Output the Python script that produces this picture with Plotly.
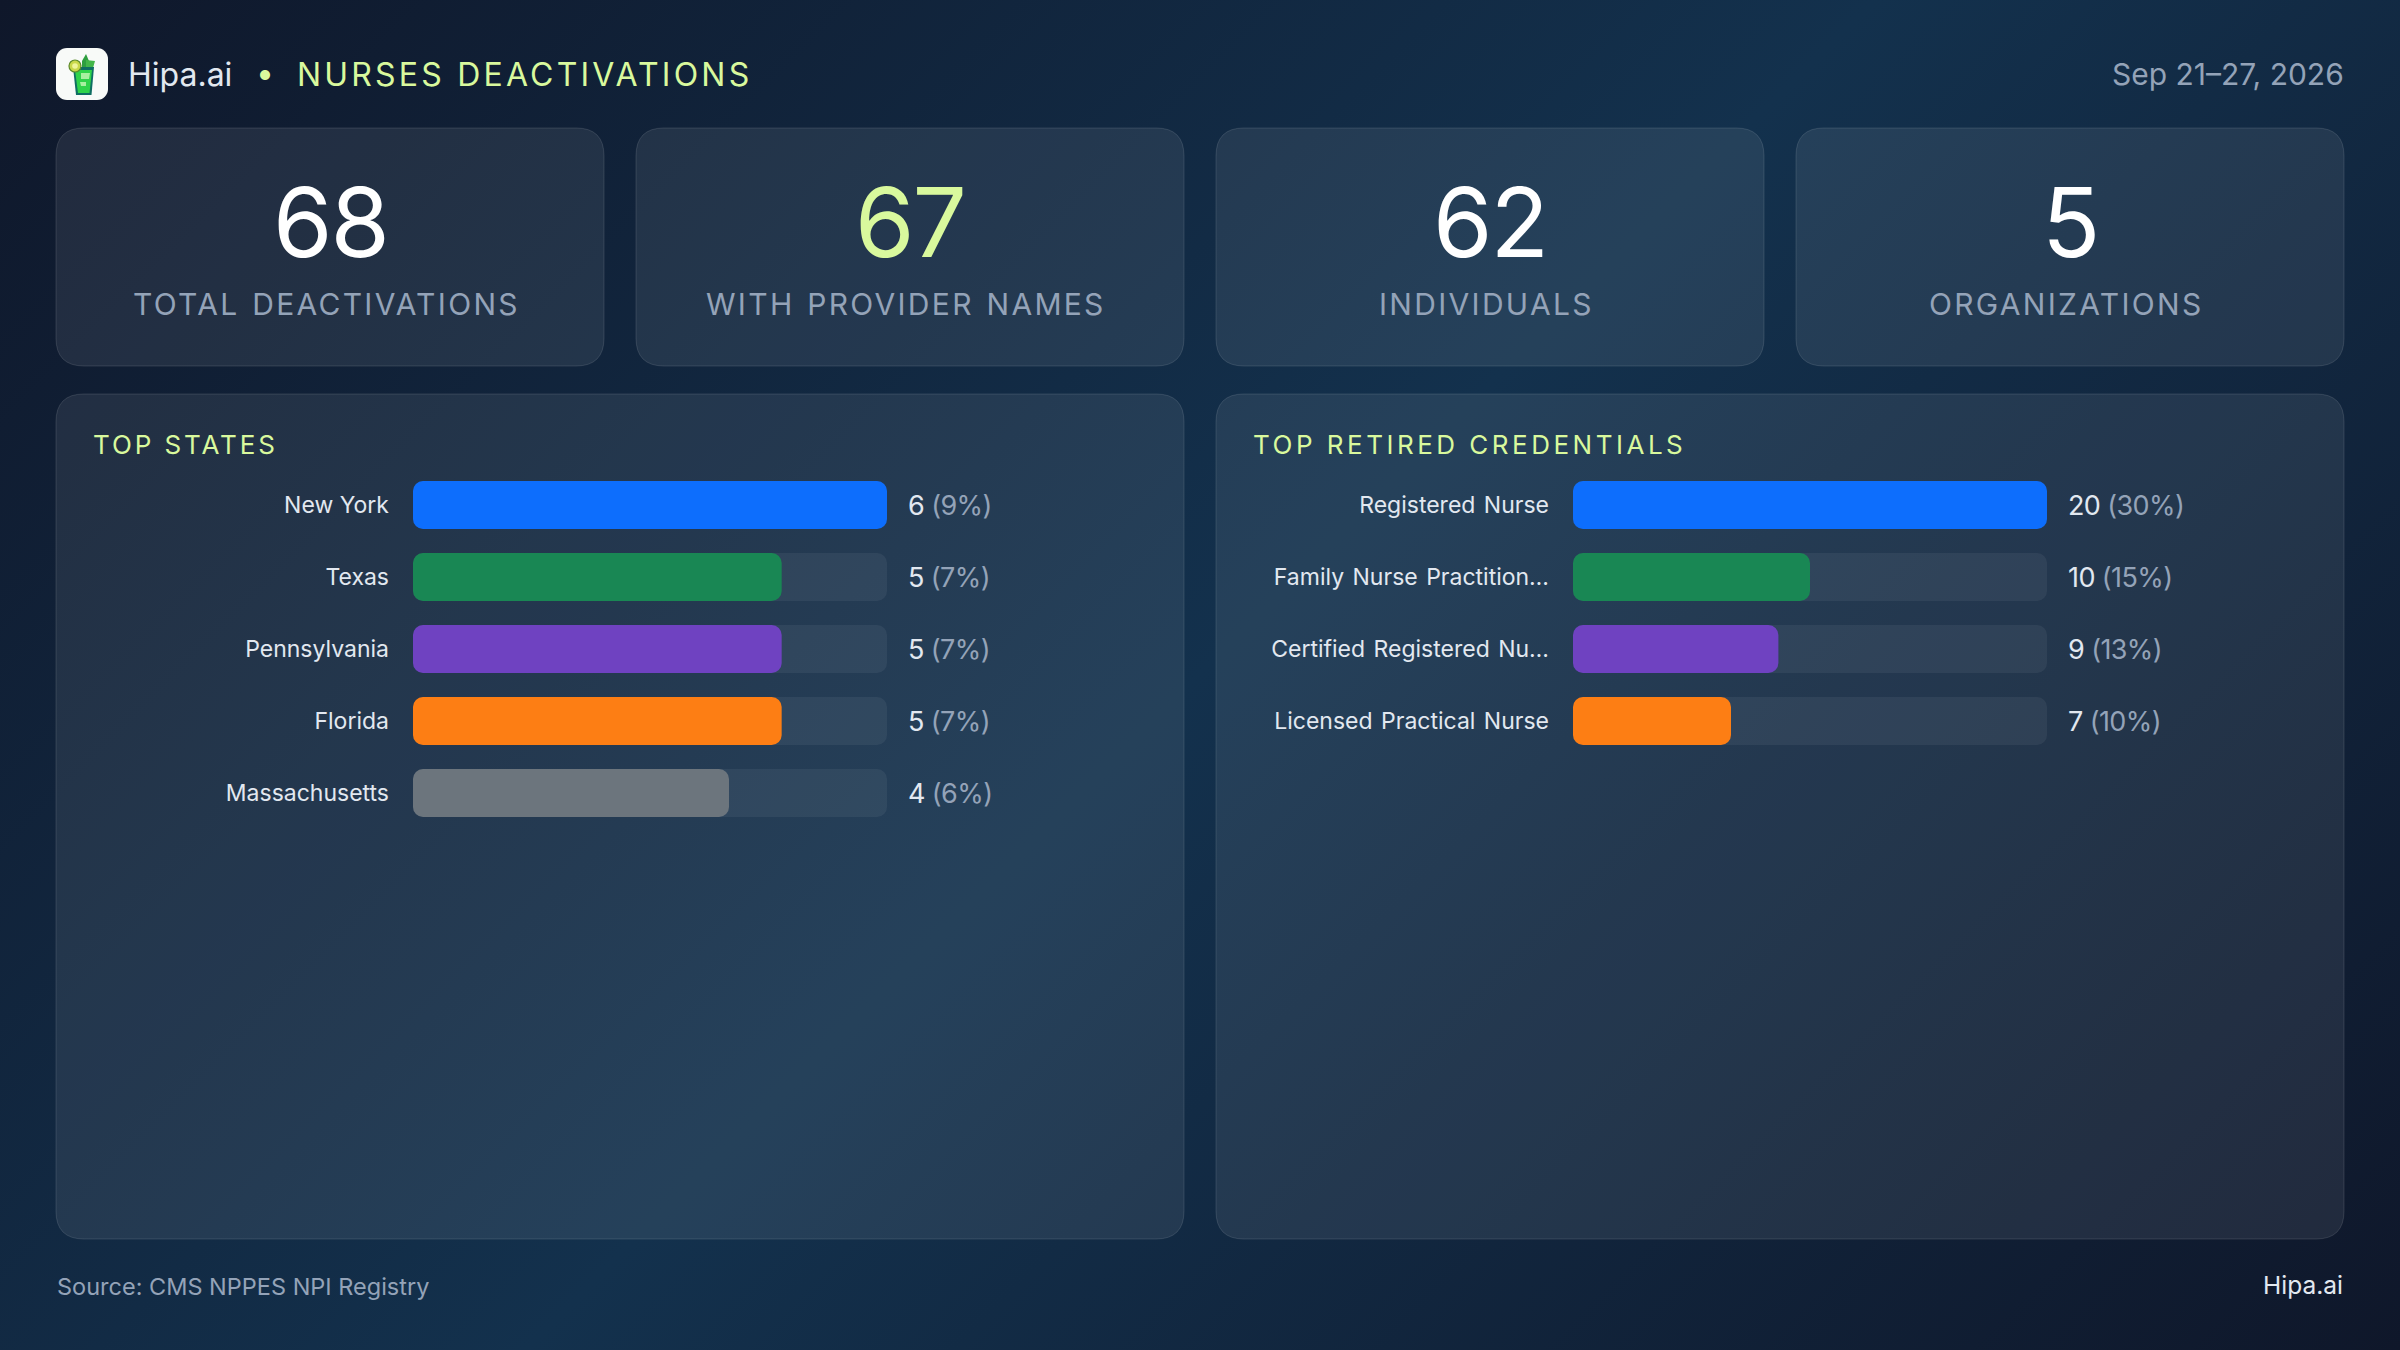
import base64

import plotly.graph_objects as go

W, H = 2400, 1350

brand = "Hipa.ai"
report_title = "NURSES DEACTIVATIONS"
date_range = "Sep 21–27, 2026"
source_note = "Source: CMS NPPES NPI Registry"

kpi_values = ["68", "67", "62", "5"]
kpi_labels = ["TOTAL DEACTIVATIONS", "WITH PROVIDER NAMES", "INDIVIDUALS", "ORGANIZATIONS"]

state_names = ["New York", "Texas", "Pennsylvania", "Florida", "Massachusetts"]
state_counts = [6, 5, 5, 5, 4]
state_pcts = [9, 7, 7, 7, 6]

cred_names = ["Registered Nurse", "Family Nurse Practition…", "Certified Registered Nu…", "Licensed Practical Nurse"]
cred_counts = [20, 10, 9, 7]
cred_pcts = [30, 15, 13, 10]

bar_colors = ["#0d6efd", "#198754", "#6f42c1", "#fd7e14", "#6c757d"]

LIME = "#d9f99d"
TEXT = "#e2e8f0"
MUTED = "#94a3b8"
FONT = "Inter"


def svg_uri(svg):
    return "data:image/svg+xml;base64," + base64.b64encode(svg.encode()).decode()


bg_svg = f"""<svg xmlns="http://www.w3.org/2000/svg" width="{W}" height="{H}" viewBox="0 0 {W} {H}">
<defs><linearGradient id="g" gradientUnits="userSpaceOnUse" x1="262.5" y1="-262.5" x2="2137.5" y2="1612.5">
<stop offset="0" stop-color="#0f172a"/><stop offset="0.5" stop-color="#13314d"/><stop offset="1" stop-color="#0f172a"/>
</linearGradient></defs><rect width="{W}" height="{H}" fill="url(#g)"/></svg>"""

logo_svg = """<svg xmlns="http://www.w3.org/2000/svg" width="52" height="52" viewBox="0 0 52 52">
<rect width="52" height="52" rx="11" fill="#f8faf8"/>
<path d="M26 13 L30 6 L33 13 L33 20 L26 20 Z" fill="#2e9e3f"/>
<path d="M30 12 L39 13 L37 20 L30 20 Z" fill="#43b649"/>
<path d="M17 19 L38 19 L35.5 47 L20 47 Z" fill="#0f6e62"/>
<path d="M19 22 L36 22 L33.5 45 L22 45 Z" fill="#2fd34a"/>
<path d="M25 25 L34 25 L33 31 L25 31 Z M24 34 L30 34 L30 38 L25 38 Z" fill="#a8f0a0"/>
<circle cx="19" cy="18" r="6" fill="#c9d84a" stroke="#5c8a2a" stroke-width="1.2"/>
<circle cx="19" cy="18" r="2.8" fill="#eef59a"/>
</svg>"""


def rounded_rect(x0, y0, x1, y1, r):
    # path in paper coordinates, y measured from the top of the page
    fx = lambda v: round(v / W, 5)
    fy = lambda v: round(1 - v / H, 5)
    return (
        f"M {fx(x0 + r)} {fy(y0)} L {fx(x1 - r)} {fy(y0)} Q {fx(x1)} {fy(y0)} {fx(x1)} {fy(y0 + r)} "
        f"L {fx(x1)} {fy(y1 - r)} Q {fx(x1)} {fy(y1)} {fx(x1 - r)} {fy(y1)} "
        f"L {fx(x0 + r)} {fy(y1)} Q {fx(x0)} {fy(y1)} {fx(x0)} {fy(y1 - r)} "
        f"L {fx(x0)} {fy(y0 + r)} Q {fx(x0)} {fy(y0)} {fx(x0 + r)} {fy(y0)} Z"
    )


def box(x0, y0, x1, y1, r=28):
    return dict(
        type="path", xref="paper", yref="paper", layer="below",
        path=rounded_rect(x0, y0, x1, y1, r),
        fillcolor="rgba(255,255,255,0.08)",
        line=dict(color="rgba(255,255,255,0.12)", width=1),
    )


def label(text, x, y, size, color, anchor="left", weight=400):
    return dict(
        text=text, x=x / W, y=1 - y / H, xref="paper", yref="paper",
        xanchor=anchor, yanchor="middle", showarrow=False,
        font=dict(family=FONT, size=size, color=color, weight=weight),
    )


def spaced(text, ls, ws=0):
    return f'<span style="letter-spacing:{ls}px;word-spacing:{ws}px">{text}</span>'


card_lefts = [56, 636, 1216, 1796]
shapes = [box(x, 128, x + 548, 366) for x in card_lefts]
shapes += [box(56, 394, 1184, 1239), box(1216, 394, 2344, 1239)]

annotations = [
    label(brand, 126, 74, 32, TEXT),
    label("•", 265, 73, 32, LIME, anchor="center"),
    label(spaced(report_title, 3.2), 294.5, 74, 32, LIME),
    label(date_range, 2346, 74, 30, MUTED, anchor="right"),
    label(source_note, 55, 1286, 23.5, MUTED),
    label(brand, 2345, 1285, 24.5, TEXT, anchor="right"),
    label(spaced("TOP STATES", 2.9), 90.5, 444, 26, LIME),
    label(spaced("TOP RETIRED CREDENTIALS", 3.5), 1250.5, 444, 26, LIME),
]
for i, x in enumerate(card_lefts):
    annotations.append(label(spaced(kpi_values[i], -2), x + 274, 222, 96, LIME if i == 1 else "#ffffff", anchor="center"))
    annotations.append(label(spaced(kpi_labels[i], 2.3, 2), x + 270, 304, 30, MUTED, anchor="center"))


fig = go.Figure()


def add_panel(names, counts, pcts, xa, ya, px_left, px_top, word_gap):
    top = max(pcts)
    zeros = [0] * len(names)
    # track first, fill on top of it; explicit base so both bar ends get rounded
    fig.add_trace(go.Bar(
        y=names, x=[top] * len(names), base=zeros, orientation="h", xaxis=xa, yaxis=ya,
        marker=dict(color="rgba(255,255,255,0.06)", line=dict(width=0)),
        hoverinfo="skip", showlegend=False,
    ))
    fig.add_trace(go.Bar(
        y=names, x=pcts, base=zeros, orientation="h", xaxis=xa, yaxis=ya,
        marker=dict(color=bar_colors[:len(names)], line=dict(width=0)),
        hoverinfo="skip", showlegend=False,
    ))
    for name, c, p in zip(names, counts, pcts):
        annotations.append(dict(
            text=spaced(f'{c} <span style="fill:{MUTED}">({p}%)</span>', -0.6),
            x=top, y=name, xref=xa, yref=ya, xanchor="left", yanchor="middle",
            xshift=19, showarrow=False, font=dict(family=FONT, size=27, color=TEXT),
        ))
    n = len(names)
    layout_x = dict(
        domain=[px_left / W, (px_left + 474) / W], range=[0, top], anchor=ya,
        visible=False, fixedrange=True,
    )
    layout_y = dict(
        domain=[1 - (px_top + 72 * n) / H, 1 - px_top / H], anchor=xa,
        autorange="reversed", type="category", showgrid=False, zeroline=False, showline=False,
        ticks="", ticklabelstandoff=23, fixedrange=True,
        tickmode="array", tickvals=names, ticktext=[spaced(v, 0, word_gap) for v in names],
        tickfont=dict(family=FONT, size=23, color=TEXT),
    )
    return layout_x, layout_y


x1, y1 = add_panel(state_names, state_counts, state_pcts, "x", "y", 413, 469, 0)
x2, y2 = add_panel(cred_names, cred_counts, cred_pcts, "x2", "y2", 1573, 469, 2)

fig.update_layout(
    width=W, height=H, margin=dict(l=0, r=0, t=0, b=0),
    paper_bgcolor="#13314d", plot_bgcolor="rgba(0,0,0,0)",
    barmode="overlay", bargap=1 / 3, barcornerradius=10, showlegend=False,
    xaxis=x1, yaxis=y1, xaxis2=x2, yaxis2=y2,
    shapes=shapes, annotations=annotations,
    images=[
        dict(source=svg_uri(bg_svg), xref="paper", yref="paper", x=0, y=1, sizex=1, sizey=1,
             xanchor="left", yanchor="top", sizing="stretch", layer="below"),
        dict(source=svg_uri(logo_svg), xref="paper", yref="paper", x=56 / W, y=1 - 48 / H,
             sizex=52 / W, sizey=52 / H, xanchor="left", yanchor="top", sizing="stretch", layer="above"),
    ],
)

fig.write_html("out.html", config={"displayModeBar": False},
               post_script="document.body.style.margin='0';")
